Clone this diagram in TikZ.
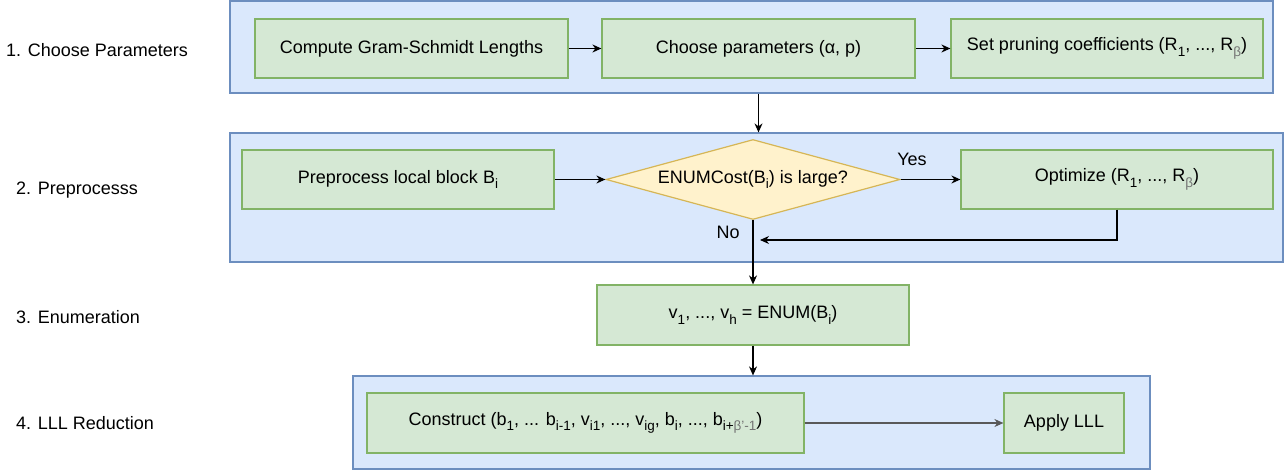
\documentclass[tikz,border=0pt]{standalone}
\usepackage{fontspec}
\setmainfont{Liberation Sans}
\usetikzlibrary{shapes.geometric,arrows.meta}

\definecolor{bandfill}{HTML}{DAE8FC}
\definecolor{bandline}{HTML}{6C8EBF}
\definecolor{stepfill}{HTML}{D5E8D4}
\definecolor{stepline}{HTML}{82B366}
\definecolor{askfill}{HTML}{FFF2CC}
\definecolor{askline}{HTML}{D6B656}

\newcommand{\lo}[1]{\raisebox{-0.3em}{\fontsize{13.5}{13.5}\selectfont #1}}
\newcommand{\gr}[1]{\textcolor{black!55}{#1}}

\tikzset{
	band/.style={draw=bandline, fill=bandfill, line width=1.2pt, inner sep=0pt},
	stepbox/.style={draw=stepline, fill=stepfill, line width=1.2pt, minimum height=60pt, inner sep=0pt},
	askbox/.style={diamond, draw=askline, fill=askfill, line width=1.2pt, aspect=3.675,
		minimum width=294pt, minimum height=80pt, inner sep=0pt},
	flow/.style={-{Stealth[length=9pt,width=8pt]}, line width=1.1pt},
	tag/.style={anchor=west, inner sep=0pt}
}

\begin{document}
\begin{tikzpicture}[x=1pt, y=-1pt, font=\fontsize{18}{22}\selectfont]
	\useasboundingbox (0,0) rectangle (1284,470);
	% stage bands
	\node[band, minimum width=1043pt, minimum height=92pt] (band1) at (751.5,47) {};
	\node[band, minimum width=1053pt, minimum height=129pt] (band2) at (756.5,197.5) {};
	\node[band, minimum width=797pt, minimum height=93pt] (band4) at (751.5,422.5) {};
	% stage names
	\node[tag] (t1) at (6,50) {1. Choose Parameters};
	\node[tag] (t2) at (16,190) {2. Preprocesss};
	\node[tag] (t3) at (16,317) {3. Enumeration};
	\node[tag] (t4) at (16,423) {4. LLL Reduction};
	% 1
	\node[stepbox, minimum width=313pt, minimum height=59pt] (gram) at (411.5,48.5) {Compute Gram-Schmidt Lengths};
	\node[stepbox, minimum width=313pt, minimum height=59pt] (param) at (758.5,48.5) {Choose parameters (α, p)};
	\node[stepbox, minimum width=312pt, minimum height=59pt] (prune) at (1107,48.5) {Set pruning coefficients (R\lo{1}, ..., R\lo{\gr{β}})};
	\draw[flow] (gram) -- (param);
	\draw[flow] (param) -- (prune);
	\draw[flow] (band1.south -| param.south) -- (band2.north -| param.south);
	% 2
	\node[stepbox, minimum width=312pt, minimum height=59pt] (pre) at (398,179.5) {Preprocess local block B\lo{i}};
	\node[askbox] (ask) at (753,179.5) {ENUMCost(B\lo{i}) is large?};
	\node[stepbox, minimum width=312pt, minimum height=59pt] (opt) at (1117,179.5) {Optimize (R\lo{1}, ..., R\lo{\gr{β}})};
	\draw[flow] (pre) -- (ask);
	\draw[flow] (ask) -- (opt);
	\node (yes) at (912,159) {Yes};
	\coordinate (back) at (760,240);
	\draw[flow] (opt.south) |- (back);
	% 3
	\node[stepbox, minimum width=312pt] (enum) at (753,315) {v\lo{1}, ..., v\lo{h} = ENUM(B\lo{i})};
	\draw[flow] (ask.south) -- (enum.north);
	\node (no) at (728,232) {No};
	\draw[flow] (enum.south) -- (band4.north -| enum.south);
	% 4
	\node[stepbox, minimum width=437pt] (cons) at (585.5,423) {Construct (b\lo{1}, ... b\lo{i-1}, v\lo{i1}, ..., v\lo{ig}, b\lo{i}, ..., b\lo{i+\gr{β'-1}})};
	\node[stepbox, minimum width=120pt] (lll) at (1064,423) {Apply LLL};
	\draw[flow, draw=black!65] (cons) -- (lll);
\end{tikzpicture}
\end{document}
